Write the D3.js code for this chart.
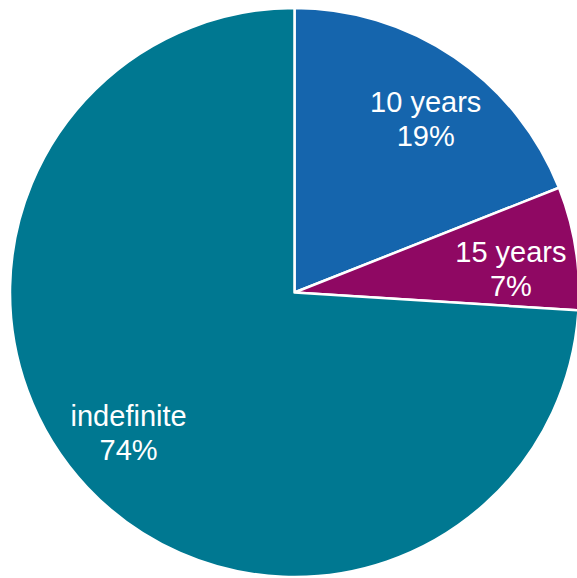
<!DOCTYPE html>
<html>
<head>
<meta charset="utf-8">
<script src="https://cdn.jsdelivr.net/npm/d3@7"></script>
<style>
  html, body { margin: 0; padding: 0; background: #ffffff; }
  svg { display: block; }
  .sliceLabel { font-family: "Liberation Sans", Arial, sans-serif; font-size: 29px; fill: #ffffff; }
</style>
</head>
<body>
<div id="chart"></div>
<script>
// chart data
var categories = ["10 years", "15 years", "indefinite"];
var shares = [19, 7, 74];
var sliceColors = ["#1565ad", "#8f0863", "#007891"];

var svgWidth = 577;
var svgHeight = 578;

var cx = 294.5;
var cy = 292.5;
var radius = 284.5;

var svg = d3.select("#chart")
  .append("svg")
  .attr("width", svgWidth)
  .attr("height", svgHeight);

var chartGroup = svg.append("g")
  .attr("transform", `translate(${cx}, ${cy})`);

var data = categories.map(function(c, i) {
  return { name: c, value: shares[i] };
});

var color = d3.scaleOrdinal()
  .domain(categories)
  .range(sliceColors);

// start at 12 o'clock, go clockwise, keep the input order
var pie = d3.pie()
  .sort(null)
  .value(d => d.value);

var arc = d3.arc()
  .innerRadius(0)
  .outerRadius(radius);

var labelArc = d3.arc()
  .innerRadius(radius * 0.765)
  .outerRadius(radius * 0.765);

var arcs = pie(data);

chartGroup.selectAll("path")
  .data(arcs)
  .enter()
  .append("path")
  .attr("d", arc)
  .attr("fill", d => color(d.data.name))
  .attr("stroke", "#ffffff")
  .attr("stroke-width", 2.5)
  .attr("stroke-linejoin", "round");

// labels sit a touch clockwise of the slice middle, like the original
function labelPos(d) {
  var shifted = Object.assign({}, d, {
    startAngle: d.startAngle + 0.05,
    endAngle: d.endAngle + 0.05
  });
  return labelArc.centroid(shifted);
}

// two line labels: category, then percent
var labels = chartGroup.selectAll(".sliceLabel")
  .data(arcs)
  .enter()
  .append("text")
  .classed("sliceLabel", true)
  .attr("text-anchor", "middle")
  .attr("transform", d => `translate(${labelPos(d)})`);

labels.append("tspan")
  .attr("x", 0)
  .attr("y", -7)
  .text(d => d.data.name);

labels.append("tspan")
  .attr("x", 0)
  .attr("y", 27)
  .text(d => d.data.value + "%");
</script>
</body>
</html>
